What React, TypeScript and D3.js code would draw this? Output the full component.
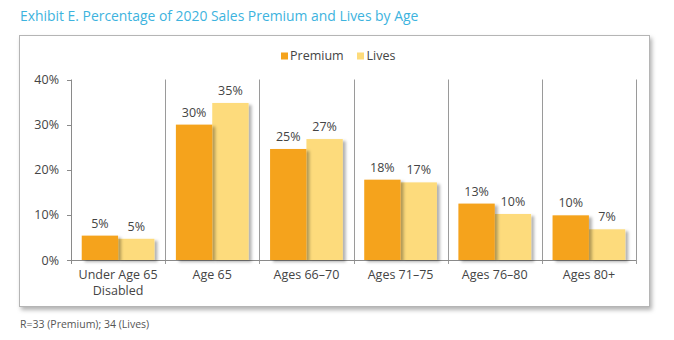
import React from "react";
import * as d3 from "d3";

const categories = ["Under Age 65|Disabled", "Age 65", "Ages 66–70", "Ages 71–75", "Ages 76–80", "Ages 80+"];
const premium = [5.4, 30, 24.6, 17.8, 12.5, 9.9];
const lives = [4.7, 34.8, 26.8, 17.2, 10.2, 6.8];
const premiumLabels = ["5%", "30%", "25%", "18%", "13%", "10%"];
const livesLabels = ["5%", "35%", "27%", "17%", "10%", "7%"];
const yTicks = [0, 10, 20, 30, 40];
const seriesNames = ["Premium", "Lives"];

const W = 674, H = 340;
const FONT = "'Open Sans', 'Noto Sans', sans-serif";
const C_PREM = "#F5A31C";
const C_LIVES = "#FDDB7B";

export default function App() {
  const x0 = d3.scaleBand<number>().domain(d3.range(categories.length)).range([71, 636]).paddingInner(0).paddingOuter(0);
  const x1 = d3.scaleBand<number>().domain([0, 1]).range([0, x0.bandwidth()]).paddingOuter(0.295).paddingInner(0);
  const y = d3.scaleLinear().domain([0, 40]).range([260, 79.5]);
  const bw = x1.bandwidth();

  return (
    <svg width={W} height={H} style={{ position: "absolute", left: 0, top: 0, background: "#fff" }} fontFamily={FONT}>
      <defs>
        <filter id="sh" x="-20%" y="-20%" width="150%" height="150%">
          <feDropShadow dx="3" dy="2" stdDeviation="1.5" floodColor="#000" floodOpacity="0.3" />
        </filter>
        <filter id="boxsh" x="-5%" y="-5%" width="110%" height="115%">
          <feDropShadow dx="2" dy="3" stdDeviation="2" floodColor="#000" floodOpacity="0.3" />
        </filter>
      </defs>
      <text x={20} y={21} fontSize={13.9} fill="#3DB3DE">Exhibit E. Percentage of 2020 Sales Premium and Lives by Age</text>
      <rect x={19.5} y={35.5} width={630} height={271} fill="#fff" stroke="#b5b5b5" strokeWidth={1} filter="url(#boxsh)" />

      {/* legend */}
      <g fontSize={12.5} fill="#444">
        <rect x={281} y={52.5} width={7} height={7} fill={C_PREM} />
        <text x={290} y={59.5}>{seriesNames[0]}</text>
        <rect x={357} y={52.5} width={7} height={7} fill={C_LIVES} />
        <text x={366.5} y={59.5}>{seriesNames[1]}</text>
      </g>

      {/* y axis */}
      <line x1={71.5} x2={71.5} y1={y(40)} y2={y(0)} stroke="#8a8a8a" />
      {yTicks.map(t => (
        <g key={t}>
          <line x1={67} x2={71.5} y1={Math.round(y(t)) + 0.5} y2={Math.round(y(t)) + 0.5} stroke="#8a8a8a" />
          <text x={59} y={y(t) + 4.5} textAnchor="end" fontSize={12.5} fill="#444">{t}%</text>
        </g>
      ))}
      {/* dividers */}
      {d3.range(1, categories.length + 1).map(i => {
        const xx = Math.round(71 + i * x0.step()) + 0.5;
        return <line key={i} x1={xx} x2={xx} y1={y(40)} y2={y(0) + 4} stroke="#9a9a9a" />;
      })}
      <line x1={71} x2={636} y1={260.5} y2={260.5} stroke="#8a8a8a" />
      <line x1={71.5} x2={71.5} y1={260} y2={264} stroke="#8a8a8a" />

      {/* bars */}
      {categories.map((c, i) => {
        const bx = x0(i)!;
        const px = bx + x1(0)!;
        const lx = bx + x1(1)!;
        return (
          <g key={c}>
            <rect x={lx} y={y(lives[i])} width={bw} height={y(0) - y(lives[i])} fill={C_LIVES} filter="url(#sh)" />
            <rect x={px} y={y(premium[i])} width={bw} height={y(0) - y(premium[i])} fill={C_PREM} filter="url(#sh)" />
            <text x={px + bw / 2} y={y(premium[i]) - 8} textAnchor="middle" fontSize={12.5} fill="#444">{premiumLabels[i]}</text>
            <text x={lx + bw / 2} y={y(lives[i]) - 8} textAnchor="middle" fontSize={12.5} fill="#444">{livesLabels[i]}</text>
            {c.split("|").map((ln, k) => (
              <text key={k} x={bx + x0.bandwidth() / 2} y={279 + k * 15.5} textAnchor="middle" fontSize={12.5} fill="#444">{ln}</text>
            ))}
          </g>
        );
      })}

      <text x={20} y={328} fontSize={10.5} fill="#555">R=33 (Premium); 34 (Lives)</text>
    </svg>
  );
}
